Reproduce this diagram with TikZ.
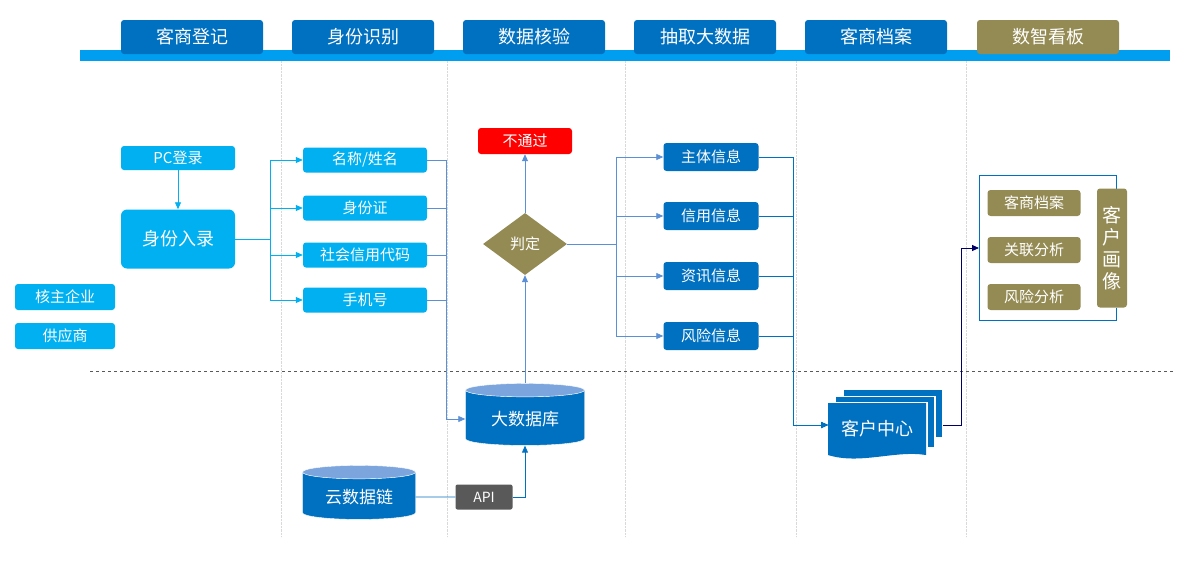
\documentclass[tikz,border=0pt]{standalone}
\usepackage{fontspec}
\setmainfont{Noto Sans CJK SC}
\usetikzlibrary{shapes.geometric,arrows.meta}
\definecolor{hdblue}{HTML}{0070C0}
\definecolor{skyb}{HTML}{00B0F0}
\definecolor{olive}{HTML}{948B54}
\definecolor{linkb}{HTML}{5B8FD6}
\tikzset{
  stage/.style={fill=hdblue, text=white, rounded corners=3pt, minimum width=142pt, minimum height=34pt, font=\fontsize{18}{18}\selectfont},
  entry/.style={fill=skyb, text=white, rounded corners=3pt, minimum width=114pt, minimum height=24pt, font=\fontsize{15}{15}\selectfont},
  field/.style={fill=skyb, text=white, rounded corners=3pt, minimum width=124pt, minimum height=25pt, font=\fontsize{15}{15}\selectfont},
  info/.style={fill=hdblue, text=white, rounded corners=3pt, minimum width=95pt, minimum height=28pt, font=\fontsize{15}{15}\selectfont},
  tag/.style={fill=olive, text=white, rounded corners=3pt, minimum width=93pt, minimum height=26pt, font=\fontsize{15}{15}\selectfont},
  store/.style={cylinder, shape border rotate=90, aspect=0.18, draw=white, cylinder uses custom fill, cylinder body fill=hdblue, cylinder end fill=linkb!80, text=white, minimum width=119pt, font=\fontsize{17}{17}\selectfont},
  link/.style={draw=linkb, thick, -{Triangle[length=7pt,width=6pt]}},
  plain/.style={draw=linkb, thick},
}
\begin{document}
\begin{tikzpicture}[x=1pt,y=-1pt]
\useasboundingbox (0,0) rectangle (1184,562);
% lanes
\foreach \lx in {281,447,625,796,966}
  \draw[gray!30, densely dotted] (\lx,61) -- (\lx,537);
\fill[skyb!90!blue] (80,50) rectangle (1170,61);
\draw[gray!70!black, dashed] (90,371) -- (1175,371);
% stages
\node[stage] (s1) at (192,37) {客商登记};
\node[stage] (s2) at (363,37) {身份识别};
\node[stage] (s3) at (534,37) {数据核验};
\node[stage] (s4) at (705,37) {抽取大数据};
\node[stage] (s5) at (876,37) {客商档案};
\node[stage, fill=olive] (s6) at (1048,37) {数智看板};
% entry side
\node[entry, minimum width=100pt, minimum height=26pt] (core) at (65,297) {核主企业};
\node[entry, minimum width=100pt, minimum height=26pt] (supp) at (65,336) {供应商};
\node[entry] (pc) at (178,158) {PC登录};
\node[entry, minimum height=59pt, rounded corners=6pt, font=\fontsize{18}{18}\selectfont] (idin) at (178,239) {身份入录};
\draw[link, draw=skyb] (pc) -- (idin);
% fields
\node[field] (f1) at (365,160) {名称/姓名};
\node[field] (f2) at (365,208) {身份证};
\node[field] (f3) at (365,255) {社会信用代码};
\node[field] (f4) at (365,300) {手机号};
\foreach \f in {f1,f2,f3,f4}
  \draw[link, draw=skyb] (idin.east) -- (270,239) |- (\f.west);
% check
\node[store, minimum height=62pt] (bigdb) at (525,419) {大数据库};
\node[store, minimum width=113pt, minimum height=54pt] (cloud) at (359,497) {云数据链};
\node[fill=gray!70!black, text=white, rounded corners=2pt, minimum width=57pt, minimum height=25pt, font=\fontsize{14}{14}\selectfont] (api) at (484,497) {API};
\node[diamond, fill=olive, text=white, minimum width=84pt, minimum height=62pt, inner sep=0pt, font=\fontsize{15}{15}\selectfont] (judge) at (525,244) {判定};
\node[fill=red, text=white, rounded corners=3pt, minimum width=94pt, minimum height=26pt, font=\fontsize{15}{15}\selectfont] (fail) at (525,141) {不通过};
\foreach \f in {f2,f3,f4}
  \draw[plain] (\f.east) -- ++(19,0);
\draw[link] (f1.east) -- ++(19,0) |- (bigdb.west);
\draw[link] (bigdb.top) -- (judge.south);
\draw[link] (judge.north) -- (fail.south);
\draw[plain, draw=hdblue] (cloud.east) -- (api.west);
\draw[link, draw=hdblue] (api.east) -| (bigdb.bottom);
% info
\node[info] (i1) at (711,157) {主体信息};
\node[info] (i2) at (711,216) {信用信息};
\node[info] (i3) at (711,276) {资讯信息};
\node[info] (i4) at (711,336) {风险信息};
\foreach \i in {i1,i2,i3,i4}
  \draw[link] (judge.east) -- (616,244) |- (\i.west);
% customer centre
\fill[hdblue] (844,390) rectangle (942,437);
\fill[white] (836,396) rectangle (936,447);
\fill[hdblue] (836,397) rectangle (934,447);
\fill[white] (828,402) rectangle (928,462);
\fill[hdblue] (828,455) .. controls (860,465) and (895,450) .. (926,455) -- (926,403) -- (828,403) -- cycle;
\node[text=white, font=\fontsize{18}{18}\selectfont] (hub) at (877,429) {客户中心};
\coordinate (hubin) at (828,425);
\coordinate (hubout) at (943,425);
\foreach \i in {i1,i2,i3,i4}
  \draw[link, draw=hdblue] (\i.east) -- ++(34.5,0) |- (hubin);
% portrait
\draw[hdblue] (1116,189) -- (1116,175) -- (979,175) -- (979,320) -- (1116,320) -- (1116,308);
\node[tag] (t1) at (1034,203) {客商档案};
\node[tag] (t2) at (1034,250) {关联分析};
\node[tag] (t3) at (1034,297) {风险分析};
\node[fill=olive, text=white, rounded corners=3pt, minimum width=30pt, minimum height=119pt, inner sep=0pt, align=center, font=\fontsize{19}{22}\selectfont] (port) at (1112,248) {客\\户\\画\\像};
\coordinate (portin) at (979,248);
\draw[thick, draw=blue!40!black, -{Triangle[length=7pt,width=6pt]}] (hubout) -- (961,425) |- (portin);
\end{tikzpicture}
\end{document}
